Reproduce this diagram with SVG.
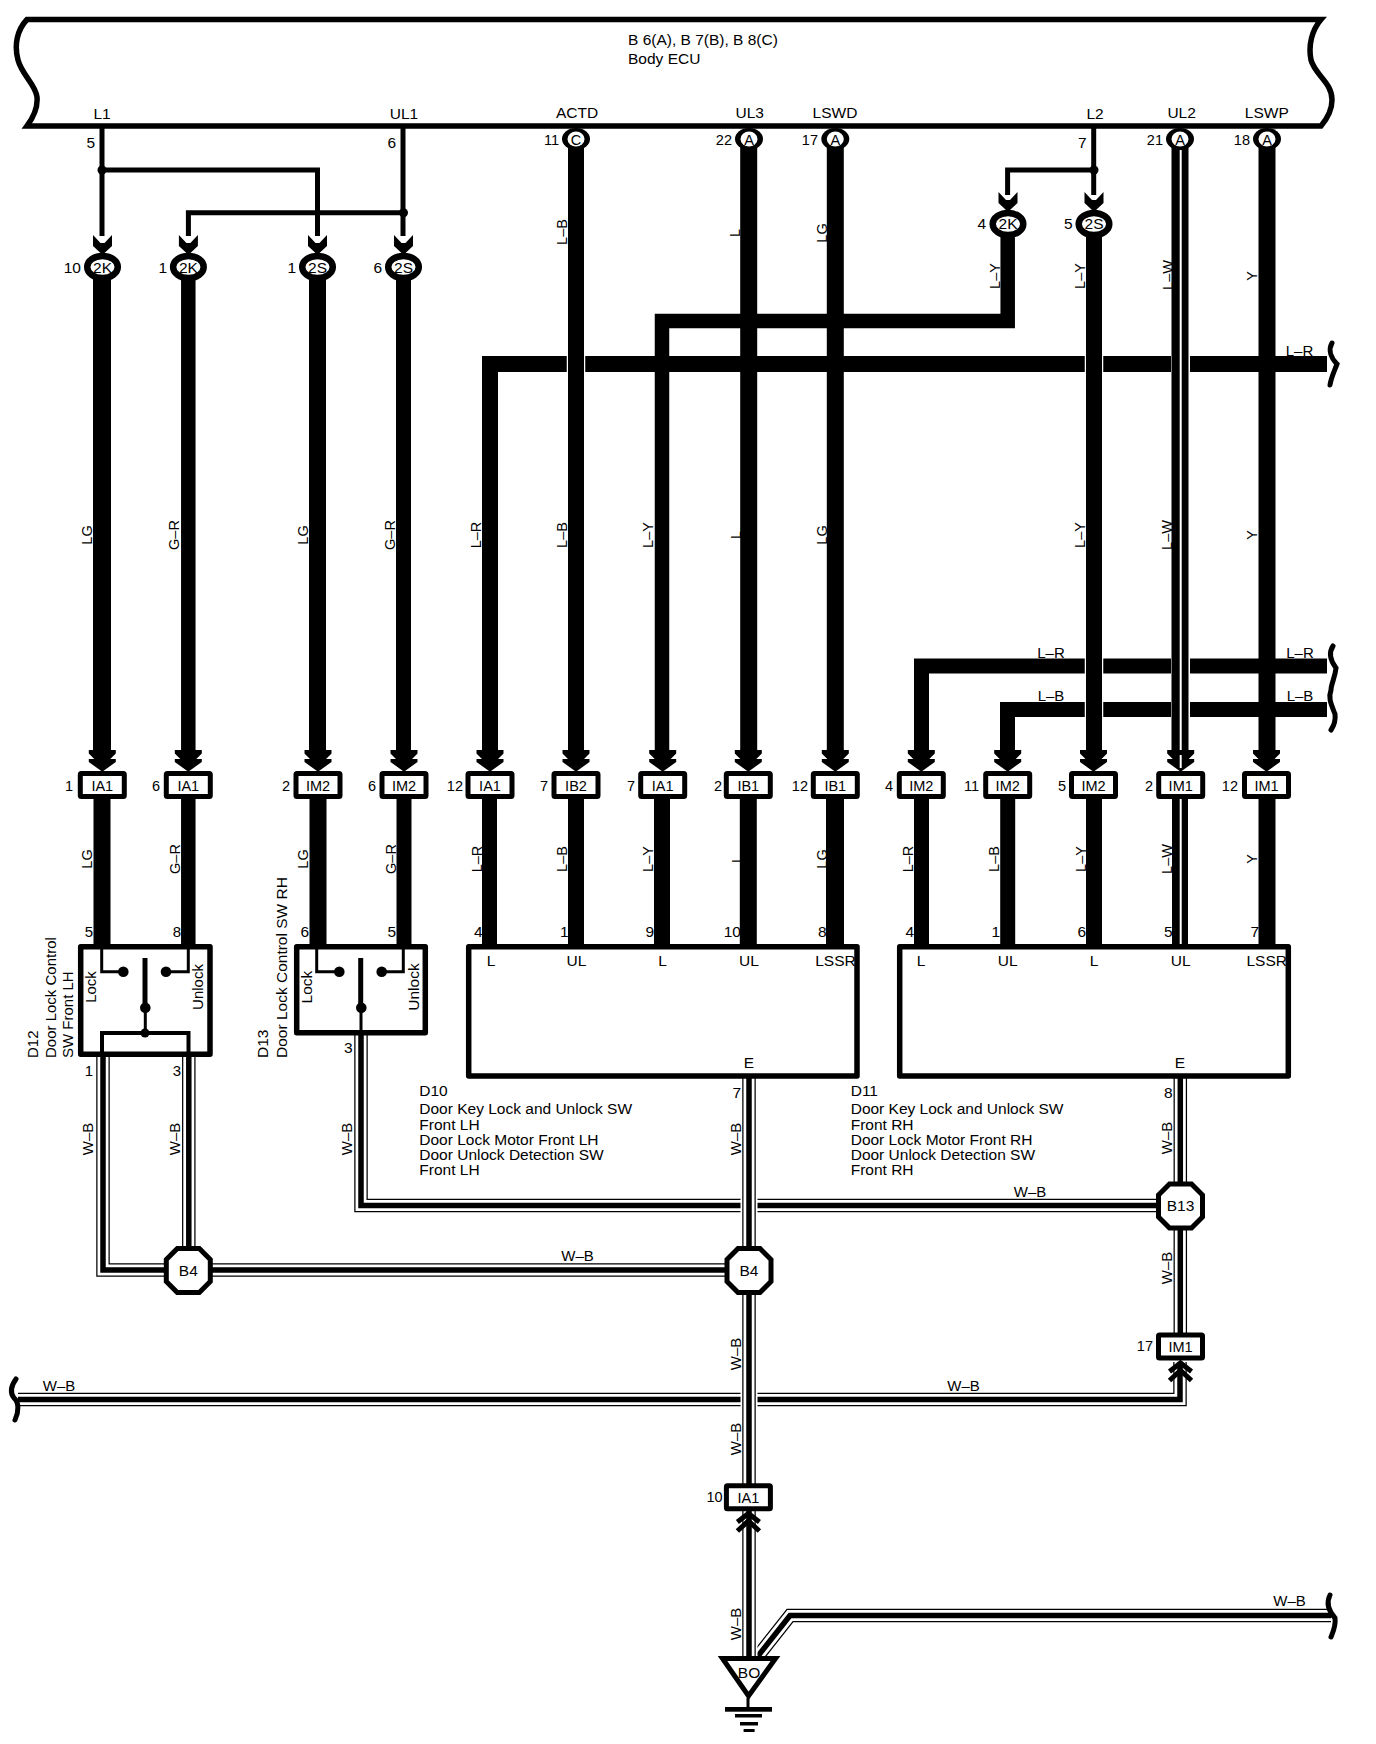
<svg xmlns="http://www.w3.org/2000/svg" width="1376" height="1744" viewBox="0 0 1376 1744">
<style>
text{font-family:"Liberation Sans",Arial,sans-serif;font-size:15.5px;fill:#000}
#pins text,#inline-row text,#wire-labels text,#IM1-17 text,#IA1-10 text{font-size:14.5px}
#lbl-wb text,#lbl-h text{font-size:15px}
#D12 text{font-size:15px}
.m{text-anchor:middle}.e{text-anchor:end}
path,line,polyline{fill:none;stroke:#000}
defs path{stroke:inherit}
.w5{stroke-width:5}.w14{stroke-width:14.5}.w15{stroke-width:15}.w16{stroke-width:16}.w17{stroke-width:17}.w18{stroke-width:18}
.gap{stroke:#fff}.cg{stroke-width:18.5}.cs{stroke-width:19}
.slit{stroke:#fff;stroke-width:2}
.o{stroke:#000;stroke-width:13.5}.i{stroke:#fff;stroke-width:11}.c{stroke:#000;stroke-width:5.5}
.halo{stroke:#fff;stroke-width:17}
.box{fill:#fff;stroke:#000;stroke-width:5.5;stroke-linejoin:round}
.conn{fill:#fff;stroke:#000;stroke-width:5;stroke-linejoin:round}
.oval{fill:#fff;stroke:#000;stroke-width:6.5}
.oct{fill:#fff;stroke:#000;stroke-width:5}
.brk{fill:none;stroke:#000;stroke-width:5;stroke-linecap:round}
.f{fill:#000;stroke:none}
.s3{stroke-width:3}
.s4{stroke-width:4}
.ch{stroke:#000;stroke-width:5;fill:none}
</style>
<defs>
<polygon id="dn" class="f" points="-13.5,-21 13.5,-21 13.5,-17.5 8,-12 13.5,-12 13.5,-9 1,0 -1,0 -13.5,-9 -13.5,-12 -8,-12 -13.5,-17.5"/>
<polygon id="sm" class="f" points="-9.5,-18 -2,-10 2,-10 9.5,-18 9.5,-7 2,0 -2,0 -9.5,-7"/>
<g id="up"><polyline class="ch" points="-11,11 0,2.5 11,11"/><polyline class="ch" points="-11,20 0,10 11,20"/></g>
<g id="oct"><polygon class="oct" points="-11,-22 11,-22 22,-11 22,11 11,22 -11,22 -22,11 -22,-11"/></g>
<rect id="cx" class="conn" x="-22" y="-11.5" width="44" height="23" rx="1"/>
<ellipse id="ov" class="oval" rx="15.3" ry="11"/>
<g id="pin"><ellipse class="f" rx="14" ry="11"/><ellipse rx="8.5" ry="7.5" fill="#fff"/></g>
<g id="hset">
<path d="M361,1035V1205.5H1160"/>
<path d="M18,1399.5H1180V1362"/>
<path d="M103,1056V1270H730"/>
<path d="M188.8,1056V1250"/>
<path d="M1180.3,1078V1185"/>
<path d="M1180.3,1228V1335"/>
<path d="M758,1656L790,1615.5H1331"/>
</g>
<g id="vset">
<path d="M749,1078V1250"/>
<path d="M749,1290V1486"/>
<path d="M749,1510V1658"/>
</g>
</defs>

<g id="connectors">
<path class="w5" d="M102,126V236"/><path class="w5" d="M102,170H317.5V236"/>
<path class="w5" d="M403,126V236"/><path class="w5" d="M403,212.7H188.4V236"/>
<path class="w5" d="M1093.7,126V195"/><path class="w5" d="M1093.7,170H1007.6V195"/>

<path class="w18" d="M102,275V752"/><path class="w14" d="M188.3,275V752"/><path class="w17" d="M317.5,275V752"/><path class="w15" d="M403.5,275V752"/>
<path class="w17" d="M102,795V946"/><path class="w14" d="M188.3,795V946"/><path class="w17" d="M318,795V946"/><path class="w15" d="M404,795V946"/>

<path class="w15" d="M1327,666H921.5V752"/>
<path class="w15" d="M1327,709.5H1007.5V752"/>
<path class="w16" d="M1327,364H490V752"/>
<path class="w14" d="M1007.7,232V321H662V752"/>

<path class="gap cg" d="M576,350V378"/>
<path class="w16" d="M576,145V752"/>
<path class="w17" d="M748.7,145V752"/>
<path class="w17" d="M835.3,145V752"/>
<path class="gap cg" d="M1094,350V378M1094,652V680M1094,696V724"/>
<path class="w16" d="M1094,232V752"/>
<path class="gap cs" d="M1180.5,350V378M1180.5,652V680M1180.5,696V724"/>
<path class="w17" d="M1180,145V752"/>
<path class="slit" d="M1180.7,150V755"/>
<path class="w17" d="M1267,145V752"/>

<path class="w15" d="M489.5,795V946"/><path class="w16" d="M576,795V946"/><path class="w16" d="M662,795V946"/><path class="w17" d="M748.3,795V946"/><path class="w18" d="M835,795V946"/>
<path class="w15" d="M921.5,795V946"/><path class="w15" d="M1007.7,795V946"/><path class="w16" d="M1094,795V946"/><path class="w16" d="M1180,795V946"/><path class="slit" d="M1180.7,795V946"/><path class="w17" d="M1267,795V946"/>

<use href="#hset" class="o"/><use href="#hset" class="i"/><use href="#hset" class="c"/>
<use href="#vset" class="halo"/>
<use href="#vset" class="o"/><use href="#vset" class="i"/><use href="#vset" class="c"/>

<path class="brk" d="M1332,343C1328,350 1331,358 1337,364C1334,372 1331,378 1330,385"/>
<path class="brk" d="M1333,646C1329,652 1330,660 1336,668C1335,678 1331,684 1331,690C1328,698 1331,704 1335,714C1336,722 1333,727 1331,730"/>
<path class="brk" d="M16,1379C11,1386 10,1393 14,1398C19,1402 19,1412 15,1420"/>
<path class="brk" d="M1330,1595C1327,1601 1327,1609 1335,1618C1336,1626 1333,1632 1331,1637"/>
</g>

<g id="wire-labels">
<g id="lbl-top">
<text class="m" x="567" y="232" transform="rotate(-90 567 232)">L–B</text>
<text class="m" x="740" y="233" transform="rotate(-90 740 233)">L</text>
<text class="m" x="826.5" y="233" transform="rotate(-90 826.5 233)">LG</text>
<text class="m" x="999.5" y="276" transform="rotate(-90 999.5 276)">L–Y</text>
<text class="m" x="1085" y="276" transform="rotate(-90 1085 276)">L–Y</text>
<text class="m" x="1172.5" y="275" transform="rotate(-90 1172.5 275)">L–W</text>
<text class="m" x="1257" y="276" transform="rotate(-90 1257 276)">Y</text>
</g>
<g id="lbl-mid">
<text class="m" x="92" y="535" transform="rotate(-90 92 535)">LG</text>
<text class="m" x="179" y="535" transform="rotate(-90 179 535)">G–R</text>
<text class="m" x="308" y="535" transform="rotate(-90 308 535)">LG</text>
<text class="m" x="395" y="535" transform="rotate(-90 395 535)">G–R</text>
<text class="m" x="481" y="535" transform="rotate(-90 481 535)">L–R</text>
<text class="m" x="567" y="535" transform="rotate(-90 567 535)">L–B</text>
<text class="m" x="652.7" y="535" transform="rotate(-90 652.7 535)">L–Y</text>
<text class="m" x="741" y="535" transform="rotate(-90 741 535)">L</text>
<text class="m" x="826.7" y="535" transform="rotate(-90 826.7 535)">LG</text>
<text class="m" x="1085" y="535" transform="rotate(-90 1085 535)">L–Y</text>
<text class="m" x="1172" y="535" transform="rotate(-90 1172 535)">L–W</text>
<text class="m" x="1257" y="535" transform="rotate(-90 1257 535)">Y</text>
</g>
<g id="lbl-low">
<text class="m" x="92" y="859" transform="rotate(-90 92 859)">LG</text>
<text class="m" x="180" y="859" transform="rotate(-90 180 859)">G–R</text>
<text class="m" x="308" y="859" transform="rotate(-90 308 859)">LG</text>
<text class="m" x="395.5" y="859" transform="rotate(-90 395.5 859)">G–R</text>
<text class="m" x="481.7" y="859" transform="rotate(-90 481.7 859)">L–R</text>
<text class="m" x="567.3" y="859" transform="rotate(-90 567.3 859)">L–B</text>
<text class="m" x="653.3" y="859" transform="rotate(-90 653.3 859)">L–Y</text>
<text class="m" x="741.7" y="859" transform="rotate(-90 741.7 859)">L</text>
<text class="m" x="826.7" y="859" transform="rotate(-90 826.7 859)">LG</text>
<text class="m" x="913" y="859" transform="rotate(-90 913 859)">L–R</text>
<text class="m" x="999.3" y="859" transform="rotate(-90 999.3 859)">L–B</text>
<text class="m" x="1085.7" y="859" transform="rotate(-90 1085.7 859)">L–Y</text>
<text class="m" x="1172" y="859" transform="rotate(-90 1172 859)">L–W</text>
<text class="m" x="1257" y="859" transform="rotate(-90 1257 859)">Y</text>
</g>
<g id="lbl-h">
<text class="m" x="1299.5" y="356">L–R</text>
<text class="m" x="1051" y="657.5">L–R</text>
<text class="m" x="1300" y="657.5">L–R</text>
<text class="m" x="1051" y="701">L–B</text>
<text class="m" x="1300" y="701">L–B</text>
<text class="m" x="577.5" y="1260.7">W–B</text>
<text class="m" x="1030" y="1197">W–B</text>
<text class="m" x="59" y="1390.7">W–B</text>
<text class="m" x="963.5" y="1390.7">W–B</text>
<text class="m" x="1289.5" y="1606">W–B</text>
</g>
<g id="lbl-wb">
<text class="m" x="93" y="1139" transform="rotate(-90 93 1139)">W–B</text>
<text class="m" x="180" y="1139" transform="rotate(-90 180 1139)">W–B</text>
<text class="m" x="352" y="1139" transform="rotate(-90 352 1139)">W–B</text>
<text class="m" x="741" y="1139" transform="rotate(-90 741 1139)">W–B</text>
<text class="m" x="1171.7" y="1138" transform="rotate(-90 1171.7 1138)">W–B</text>
<text class="m" x="1171.7" y="1268" transform="rotate(-90 1171.7 1268)">W–B</text>
<text class="m" x="741" y="1354" transform="rotate(-90 741 1354)">W–B</text>
<text class="m" x="741" y="1439" transform="rotate(-90 741 1439)">W–B</text>
<text class="m" x="741" y="1624" transform="rotate(-90 741 1624)">W–B</text>
</g>
</g>

<g id="body-ecu">
<path d="M27,19.5H1321C1312,30 1308,45 1311,60C1315,75 1332,82 1332,100C1332,112 1326,120 1321,126H27C33,118 38,108 37,97C36,85 22,75 18,60C14,45 17,30 27,19.5Z" style="fill:#fff;stroke-width:5.5"/>
<text x="628" y="45">B 6(A), B 7(B), B 8(C)</text>
<text x="628" y="64">Body ECU</text>
<text class="m" x="102" y="119">L1</text>
<text class="m" x="404" y="119">UL1</text>
<text class="m" x="577" y="118">ACTD</text>
<text class="m" x="749.7" y="118">UL3</text>
<text class="m" x="835" y="118">LSWD</text>
<text class="m" x="1095" y="119">L2</text>
<text class="m" x="1181.6" y="118">UL2</text>
<text class="m" x="1266.8" y="118">LSWP</text>
<text class="e" x="95" y="147.5">5</text>
<text class="e" x="396" y="147.5">6</text>
<text class="e" x="1086.5" y="148">7</text>
</g>

<g id="pins">
<g id="pin-c"><use href="#pin" x="576" y="139"/><text class="m" x="576" y="144.5">C</text><text class="e" x="559" y="145">11</text></g>
<g id="pin-ul3"><use href="#pin" x="749" y="139"/><text class="m" x="749" y="144.5">A</text><text class="e" x="732" y="145">22</text></g>
<g id="pin-lswd"><use href="#pin" x="835.3" y="139"/><text class="m" x="835.3" y="144.5">A</text><text class="e" x="818" y="145">17</text></g>
<g id="pin-ul2"><use href="#pin" x="1180" y="139"/><text class="m" x="1180" y="144.5">A</text><text class="e" x="1163" y="145">21</text></g>
<g id="pin-lswp"><use href="#pin" x="1267" y="139"/><text class="m" x="1267" y="144.5">A</text><text class="e" x="1250" y="145">18</text></g>
</g>

<g id="junctions">
<circle class="f" cx="102" cy="170" r="4.5"/>
<circle class="f" cx="403.5" cy="212.7" r="4.5"/>
<circle class="f" cx="1094" cy="170" r="4.5"/>
</g>

<g id="joints">
<g id="j-2k-10"><use href="#sm" x="102.5" y="253"/><use href="#ov" x="102.5" y="267"/><text class="m" x="102.5" y="272.5">2K</text><text class="e" x="81" y="273">10</text></g>
<g id="j-2k-1"><use href="#sm" x="188.4" y="253"/><use href="#ov" x="188.4" y="267"/><text class="m" x="188.4" y="272.5">2K</text><text class="e" x="167" y="273">1</text></g>
<g id="j-2s-1"><use href="#sm" x="317.5" y="253"/><use href="#ov" x="317.5" y="267"/><text class="m" x="317.5" y="272.5">2S</text><text class="e" x="296" y="273">1</text></g>
<g id="j-2s-6"><use href="#sm" x="403.5" y="253"/><use href="#ov" x="403.5" y="267"/><text class="m" x="403.5" y="272.5">2S</text><text class="e" x="382" y="273">6</text></g>
<g id="j-2k-4"><use href="#sm" x="1008" y="210"/><use href="#ov" x="1008" y="224"/><text class="m" x="1008" y="229">2K</text><text class="e" x="986" y="229">4</text></g>
<g id="j-2s-5"><use href="#sm" x="1094" y="210"/><use href="#ov" x="1094" y="224"/><text class="m" x="1094" y="229">2S</text><text class="e" x="1072.5" y="229">5</text></g>
</g>

<g id="inline-row">
<g id="c1"><use href="#dn" x="102.3" y="771"/><use href="#cx" x="102.3" y="785"/><text class="m" x="102.3" y="791">IA1</text><text class="e" x="73" y="791">1</text></g>
<g id="c2"><use href="#dn" x="188.3" y="771"/><use href="#cx" x="188.3" y="785"/><text class="m" x="188.3" y="791">IA1</text><text class="e" x="160" y="791">6</text></g>
<g id="c3"><use href="#dn" x="318" y="771"/><use href="#cx" x="318" y="785"/><text class="m" x="318" y="791">IM2</text><text class="e" x="290" y="791">2</text></g>
<g id="c4"><use href="#dn" x="404" y="771"/><use href="#cx" x="404" y="785"/><text class="m" x="404" y="791">IM2</text><text class="e" x="376" y="791">6</text></g>
<g id="c5"><use href="#dn" x="490" y="771"/><use href="#cx" x="490" y="785"/><text class="m" x="490" y="791">IA1</text><text class="e" x="463" y="791">12</text></g>
<g id="c6"><use href="#dn" x="576" y="771"/><use href="#cx" x="576" y="785"/><text class="m" x="576" y="791">IB2</text><text class="e" x="548" y="791">7</text></g>
<g id="c7"><use href="#dn" x="662.7" y="771"/><use href="#cx" x="662.7" y="785"/><text class="m" x="662.7" y="791">IA1</text><text class="e" x="635" y="791">7</text></g>
<g id="c8"><use href="#dn" x="748.3" y="771"/><use href="#cx" x="748.3" y="785"/><text class="m" x="748.3" y="791">IB1</text><text class="e" x="722" y="791">2</text></g>
<g id="c9"><use href="#dn" x="835.3" y="771"/><use href="#cx" x="835.3" y="785"/><text class="m" x="835.3" y="791">IB1</text><text class="e" x="808" y="791">12</text></g>
<g id="c10"><use href="#dn" x="921.3" y="771"/><use href="#cx" x="921.3" y="785"/><text class="m" x="921.3" y="791">IM2</text><text class="e" x="893" y="791">4</text></g>
<g id="c11"><use href="#dn" x="1007.7" y="771"/><use href="#cx" x="1007.7" y="785"/><text class="m" x="1007.7" y="791">IM2</text><text class="e" x="979" y="791">11</text></g>
<g id="c12"><use href="#dn" x="1093.5" y="771"/><use href="#cx" x="1093.5" y="785"/><text class="m" x="1093.5" y="791">IM2</text><text class="e" x="1066" y="791">5</text></g>
<g id="c13"><use href="#dn" x="1180.7" y="771"/><use href="#cx" x="1180.7" y="785"/><path class="slit" d="M1180.7,755V768"/><text class="m" x="1180.7" y="791">IM1</text><text class="e" x="1153" y="791">2</text></g>
<g id="c14"><use href="#dn" x="1266.5" y="771"/><use href="#cx" x="1266.5" y="785"/><text class="m" x="1266.5" y="791">IM1</text><text class="e" x="1238" y="791">12</text></g>
</g>

<g id="D12">
<rect class="box" x="80.7" y="946.7" width="129.3" height="107.5"/>
<path class="s3" d="M101.7,948V971.7H123"/><path class="s3" d="M188.3,948V971.7H166"/>
<circle class="f" cx="123.3" cy="971.7" r="5.3"/><circle class="f" cx="166" cy="971.7" r="5.3"/>
<path class="w5" d="M145,958V1008"/><circle class="f" cx="145.3" cy="1007.7" r="5.3"/>
<path class="s3" d="M145.3,1008V1033"/><circle class="f" cx="145" cy="1033" r="4.5"/>
<path class="s4" d="M102,1056V1033H188.5V1056"/>
<text class="m" x="96" y="987" transform="rotate(-90 96 987)">Lock</text>
<text class="m" x="203.3" y="987" transform="rotate(-90 203.3 987)">Unlock</text>
<text class="e" x="93" y="937">5</text><text class="e" x="181" y="937">8</text>
<text class="e" x="93" y="1076">1</text><text class="e" x="181" y="1076">3</text>
<text x="38" y="1058" transform="rotate(-90 38 1058)">D12</text>
<text x="56" y="1058" transform="rotate(-90 56 1058)">Door Lock Control</text>
<text x="72.5" y="1058" transform="rotate(-90 72.5 1058)">SW Front LH</text>
</g>

<g id="D13">
<rect class="box" x="296.7" y="946.7" width="128.6" height="86"/>
<path class="s3" d="M316.7,948V971.7H339"/><path class="s3" d="M403.3,948V971.7H382"/>
<circle class="f" cx="339.3" cy="971.7" r="5.3"/><circle class="f" cx="381.7" cy="971.7" r="5.3"/>
<path class="w5" d="M360.7,958V1008"/><circle class="f" cx="361.3" cy="1007.7" r="5.3"/>
<path class="s3" d="M361,1008V1036"/>
<text class="m" x="311.7" y="987" transform="rotate(-90 311.7 987)">Lock</text>
<text class="m" x="419.3" y="987" transform="rotate(-90 419.3 987)">Unlock</text>
<text class="e" x="309" y="937">6</text><text class="e" x="396" y="937">5</text>
<text class="e" x="352.5" y="1053">3</text>
<text x="268.3" y="1058" transform="rotate(-90 268.3 1058)">D13</text>
<text x="286.5" y="1058" transform="rotate(-90 286.5 1058)">Door Lock Control SW RH</text>
</g>

<g id="D10">
<rect class="box" x="468.7" y="946.7" width="388.3" height="129.3"/>
<text class="m" x="491" y="966">L</text><text class="m" x="576.5" y="966">UL</text><text class="m" x="662.5" y="966">L</text><text class="m" x="749" y="966">UL</text><text class="m" x="835.5" y="966">LSSR</text>
<text class="m" x="749" y="1068">E</text>
<text class="e" x="482.5" y="937">4</text><text class="e" x="568.5" y="937">1</text><text class="e" x="654" y="937">9</text><text class="e" x="741" y="937">10</text><text class="e" x="826.5" y="937">8</text>
<text class="e" x="741" y="1098">7</text>
<text x="419.3" y="1096">D10</text>
<text x="419.3" y="1114">Door Key Lock and Unlock SW</text>
<text x="419.3" y="1129.5">Front LH</text>
<text x="419.3" y="1144.5">Door Lock Motor Front LH</text>
<text x="419.3" y="1159.5">Door Unlock Detection SW</text>
<text x="419.3" y="1175">Front LH</text>
</g>

<g id="D11">
<rect class="box" x="899.7" y="946.7" width="388.6" height="129.3"/>
<text class="m" x="921" y="966">L</text><text class="m" x="1007.7" y="966">UL</text><text class="m" x="1094" y="966">L</text><text class="m" x="1180.7" y="966">UL</text><text class="m" x="1266.7" y="966">LSSR</text>
<text class="m" x="1180" y="1068">E</text>
<text class="e" x="914" y="937">4</text><text class="e" x="1000" y="937">1</text><text class="e" x="1086" y="937">6</text><text class="e" x="1172.5" y="937">5</text><text class="e" x="1259" y="937">7</text>
<text class="e" x="1172.5" y="1098">8</text>
<text x="850.7" y="1096">D11</text>
<text x="850.7" y="1114">Door Key Lock and Unlock SW</text>
<text x="850.7" y="1129.5">Front RH</text>
<text x="850.7" y="1144.5">Door Lock Motor Front RH</text>
<text x="850.7" y="1159.5">Door Unlock Detection SW</text>
<text x="850.7" y="1175">Front RH</text>
</g>

<g id="splices">
<g id="B4-a"><use href="#oct" x="188.3" y="1270.5"/><text class="m" x="188.3" y="1275.5">B4</text></g>
<g id="B4-b"><use href="#oct" x="749" y="1270.5"/><text class="m" x="749" y="1275.5">B4</text></g>
<g id="B13"><use href="#oct" x="1180.5" y="1206"/><text class="m" x="1180.5" y="1211">B13</text></g>
</g>

<g id="IM1-17"><use href="#up" x="1180.5" y="1360.5"/><use href="#cx" x="1180.5" y="1346.5"/><text class="m" x="1180.5" y="1352">IM1</text><text class="e" x="1153" y="1351">17</text></g>
<g id="IA1-10"><use href="#up" x="748.4" y="1511"/><use href="#cx" x="748.4" y="1497.3"/><text class="m" x="748.4" y="1503">IA1</text><text class="e" x="722.6" y="1502">10</text></g>

<g id="BO">
<polygon points="722.5,1658.5 775.5,1658.5 748.5,1696" fill="#fff" stroke="#000" stroke-width="5"/>
<text class="m" x="749" y="1678">BO</text>
<path class="s3" d="M748,1698V1708"/>
<rect class="f" x="725" y="1707" width="47" height="4.7"/>
<rect class="f" x="735" y="1714" width="27" height="3.5"/>
<rect class="f" x="740" y="1722" width="18" height="3.5"/>
<rect class="f" x="743.6" y="1729" width="11" height="3"/>
</g>
</svg>
